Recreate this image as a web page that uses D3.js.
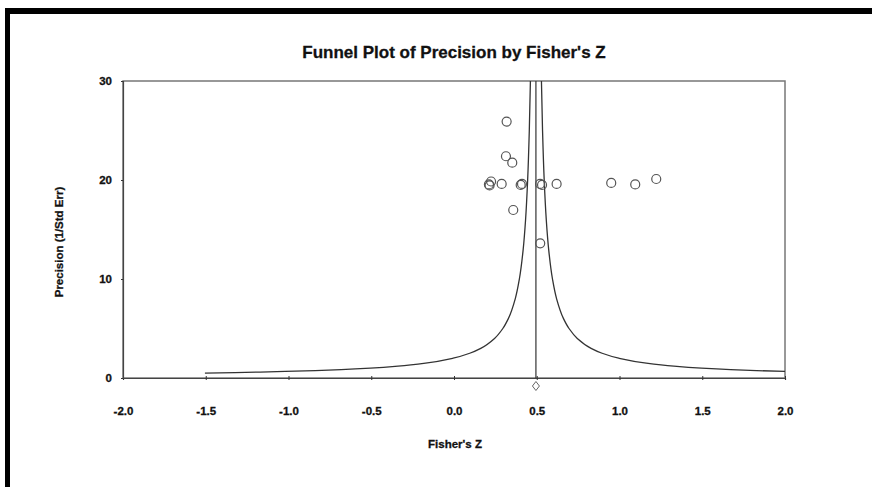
<!DOCTYPE html>
<html>
<head>
<meta charset="utf-8">
<script src="https://cdn.jsdelivr.net/npm/d3@7"></script>
<style>
  body { margin: 0; background: #fff; }
  svg { display: block; }
  text { font-family: "Liberation Sans", Arial, sans-serif; font-weight: bold; fill: #111; stroke: #111; stroke-width: 0.3px; }
</style>
</head>
<body>
<svg id="canvas" width="872" height="487"></svg>
<script>
// tick labels
let xTicks = [-2.0, -1.5, -1.0, -0.5, 0.0, 0.5, 1.0, 1.5, 2.0]
let yTicks = [0, 10, 20, 30]

// studies
let studyZ = [0.318, 0.314, 0.352, 0.211, 0.224, 0.215, 0.288, 0.403, 0.411, 0.520, 0.532, 0.620, 0.950, 1.095, 1.222, 0.358, 0.521]
let studyPrecision = [25.9, 22.4, 21.75, 19.55, 19.85, 19.45, 19.6, 19.5, 19.6, 19.6, 19.5, 19.6, 19.7, 19.55, 20.1, 16.97, 13.6]

// pooled estimate and funnel limits (z = pooled +/- halfWidth / precision)
let pooledZ = 0.495
let funnelHalfWidth = 1.0
let funnelPrecision = [0.5, 0.55, 0.6, 0.66, 0.75, 0.85, 1, 1.2, 1.5, 2, 2.5, 3, 4, 5, 6, 8, 10, 13, 16, 20, 25, 30, 36]

let canvas = d3.select('#canvas')

let margin = { left: 123, right: 87, top: 81, bottom: 109 }
let width = 872, height = 487

let x = d3.scaleLinear().domain([-2, 2]).range([margin.left, width - margin.right])
let y = d3.scaleLinear().domain([0, 30]).range([height - margin.bottom, margin.top])

// thick outer frame (top and left edges only, rest is cut off)
canvas.append('rect').attr('x', 5).attr('y', 8).attr('width', 867).attr('height', 6).attr('fill', '#000')
canvas.append('rect').attr('x', 5).attr('y', 8).attr('width', 5).attr('height', 479).attr('fill', '#000')

// title
canvas.append('text')
  .attr('x', 454).attr('y', 58)
  .attr('text-anchor', 'middle')
  .attr('font-size', '17px')
  .text("Funnel Plot of Precision by Fisher's Z")

// plot box
canvas.append('rect')
  .attr('x', x(-2)).attr('y', y(30))
  .attr('width', x(2) - x(-2)).attr('height', y(0) - y(30))
  .attr('fill', 'none')
  .attr('stroke', '#777')
  .attr('stroke-width', 1.5)

canvas.append('defs').append('clipPath').attr('id', 'plotclip')
  .append('rect')
  .attr('x', x(-2)).attr('y', y(30))
  .attr('width', x(2) - x(-2)).attr('height', y(0) - y(30))

// axes
let xAxis = canvas.append('g')
  .attr('transform', 'translate(0,' + y(0) + ')')
  .call(d3.axisBottom(x).tickValues(xTicks).tickSize(2).tickPadding(27))
xAxis.select('.domain').attr('stroke', '#444').attr('stroke-width', 1.2)
xAxis.selectAll('.tick line').attr('stroke', '#333').attr('y1', -2).attr('y2', 2)
xAxis.selectAll('.tick text').attr('font-size', '11.5px').attr('fill', '#111')
  .text(d => d3.format('.1f')(d).replace('−', '-'))

let yAxis = canvas.append('g')
  .attr('transform', 'translate(' + x(-2) + ',0)')
  .call(d3.axisLeft(y).tickValues(yTicks).tickSize(2).tickPadding(9))
yAxis.select('.domain').attr('stroke', '#444').attr('stroke-width', 1.2)
yAxis.selectAll('.tick line').attr('stroke', '#333')
yAxis.selectAll('.tick text').attr('font-size', '11.5px').attr('fill', '#111')

// axis titles
canvas.append('text')
  .attr('x', 455).attr('y', 448)
  .attr('text-anchor', 'middle')
  .attr('font-size', '11.5px')
  .text("Fisher's Z")

canvas.append('text')
  .attr('transform', 'translate(63,242) rotate(-90)')
  .attr('text-anchor', 'middle')
  .attr('font-size', '11.5px')
  .text('Precision (1/Std Err)')

let plot = canvas.append('g').attr('clip-path', 'url(#plotclip)')

// pooled line
plot.append('line')
  .attr('x1', x(pooledZ)).attr('x2', x(pooledZ))
  .attr('y1', y(0)).attr('y2', y(30))
  .attr('stroke', '#333').attr('stroke-width', 1.2)

// funnel
let funnelLine = d3.line()
  .x(d => x(d[0]))
  .y(d => y(d[1]))
  .curve(d3.curveMonotoneY)

let leftLimit = funnelPrecision.map(p => [pooledZ - funnelHalfWidth / p, p])
let rightLimit = funnelPrecision.map(p => [pooledZ + funnelHalfWidth / p, p])

plot.selectAll('path.funnel')
  .data([leftLimit, rightLimit])
  .enter()
  .append('path')
  .attr('class', 'funnel')
  .attr('d', funnelLine)
  .attr('fill', 'none')
  .attr('stroke', '#333')
  .attr('stroke-width', 1.3)

// studies
plot.selectAll('circle')
  .data(studyZ)
  .enter()
  .append('circle')
  .attr('cx', d => x(d))
  .attr('cy', (d, i) => y(studyPrecision[i]))
  .attr('r', 4.5)
  .attr('fill', 'none')
  .attr('stroke', '#555')
  .attr('stroke-width', 1.2)

// summary diamond below axis
let dx = x(pooledZ), dy = 386
canvas.append('path')
  .attr('d', 'M' + dx + ',' + (dy - 4.5) + 'L' + (dx + 3.5) + ',' + dy + 'L' + dx + ',' + (dy + 4.5) + 'L' + (dx - 3.5) + ',' + dy + 'Z')
  .attr('fill', '#fff')
  .attr('stroke', '#666')
  .attr('stroke-width', 1)
</script>
</body>
</html>
